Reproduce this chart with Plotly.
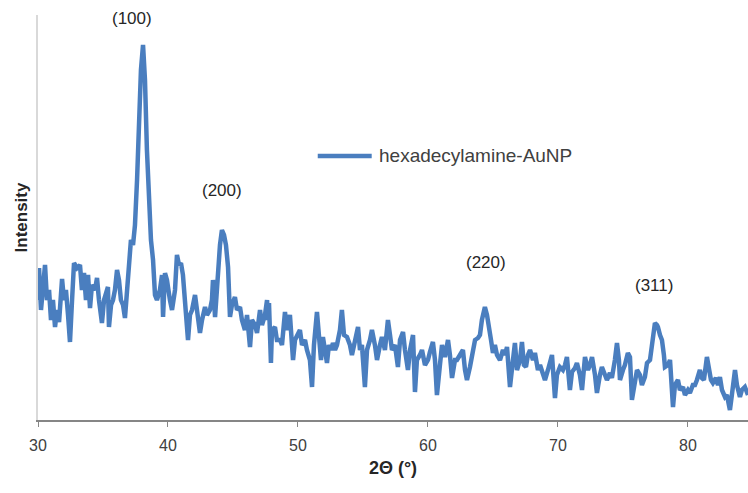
import plotly.graph_objects as go

two_theta = [
    30.00, 30.08, 30.23, 30.38, 30.54, 30.69, 30.85, 31.00, 31.15, 31.31, 31.46, 31.62,
    31.85, 32.00, 32.15, 32.31, 32.46, 32.62, 32.77, 33.00, 33.23, 33.38, 33.54, 33.69,
    33.85, 34.00, 34.15, 34.38, 34.54, 34.69, 34.92, 35.08, 35.23, 35.38, 35.46, 35.62,
    35.77, 35.92, 36.08, 36.23, 36.38, 36.54, 36.69, 36.85, 37.00, 37.15, 37.31, 37.46,
    37.62, 37.77, 37.92, 38.08, 38.23, 38.38, 38.54, 38.69, 38.85, 39.00, 39.15,
    39.38, 39.54, 39.62, 39.77, 39.92, 40.15, 40.31, 40.54, 40.69, 40.85, 41.00, 41.15,
    41.31, 41.46, 41.54, 41.69, 41.85, 42.08, 42.23, 42.46, 42.62, 42.85, 43.00, 43.23,
    43.38, 43.46, 43.62, 43.77, 43.85, 44.00, 44.15, 44.31, 44.46, 44.62, 44.77, 44.92,
    45.15, 45.31, 45.54, 45.69, 45.92, 46.08, 46.31, 46.46, 46.69, 46.85, 47.08, 47.23,
    47.46, 47.62, 47.69, 47.77, 47.92, 48.00, 48.23, 48.38, 48.62,
    48.77, 49.00, 49.15, 49.38, 49.62, 49.77, 50.00, 50.15, 50.31, 50.54, 50.69, 50.92,
    51.08, 51.23, 51.46, 51.62, 51.77, 51.92, 52.08, 52.23, 52.38, 52.54, 52.69, 52.85,
    53.00, 53.23, 53.38, 53.54, 53.77, 54.00, 54.15, 54.38, 54.62, 54.77, 54.92, 55.15,
    55.31, 55.54, 55.69, 55.92, 56.08, 56.31, 56.46, 56.69, 56.92, 57.08, 57.23, 57.46,
    57.69,
    57.85, 58.08, 58.23, 58.46, 58.62, 58.85, 59.00, 59.15, 59.38, 59.54, 59.77, 60.00,
    60.15, 60.38, 60.54, 60.69, 60.92, 61.08, 61.31, 61.54, 61.69, 61.85, 62.08, 62.23,
    62.46, 62.69, 62.85, 63.00, 63.23, 63.38, 63.62, 63.85, 64.00, 64.15, 64.38, 64.54,
    64.69, 64.85, 65.00, 65.15, 65.31, 65.54, 65.77, 65.92, 66.08, 66.31, 66.54, 66.69,
    66.85, 67.08, 67.23, 67.38, 67.54, 67.69, 67.85, 68.08, 68.23, 68.46, 68.62, 68.85,
    69.00, 69.23, 69.38, 69.54, 69.77, 69.92, 70.15, 70.38, 70.54, 70.69, 70.92, 71.08,
    71.31, 71.46, 71.69, 71.85, 72.08, 72.31, 72.46, 72.62, 72.85, 73.00, 73.23, 73.38,
    73.62, 73.77, 74.00, 74.15, 74.38, 74.54, 74.69, 74.77, 75.00, 75.15, 75.38, 75.54,
    75.69, 75.92, 76.08, 76.31, 76.46, 76.69, 76.85, 77.08, 77.23, 77.38, 77.46, 77.62,
    77.69, 77.85, 78.00, 78.15, 78.23, 78.46, 78.62, 78.85, 79.00, 79.23, 79.38, 79.62,
    79.77, 80.00, 80.15, 80.38, 80.54, 80.69, 80.92, 81.08, 81.23, 81.46, 81.62, 81.77,
    81.92, 82.15, 82.31, 82.46, 82.62, 82.85, 83.00, 83.23, 83.38, 83.62, 83.77, 84.00,
    84.15, 84.38, 84.62,
]

intensity = [
    120, 152, 110, 135, 155, 120, 130, 100, 120, 93, 110, 98,
    141, 120, 130, 105, 78, 120, 157, 152, 155, 130, 147, 120,
    145, 112, 135, 130, 142, 120, 97, 120, 125, 133, 93, 115,
    120, 130, 150, 140, 120, 115, 102, 125, 150, 180, 175, 195,
    240, 300, 350, 375, 340, 270, 220, 180, 160, 125, 120,
    130, 145, 103, 147, 140, 120, 110, 130, 165, 155, 157, 145,
    113, 100, 80, 105, 110, 125, 110, 87, 100, 113, 105, 110,
    120, 140, 103, 135, 160, 175, 190, 185, 175, 153, 103, 115,
    123, 110, 113, 100, 90, 105, 73, 100, 95, 87, 110, 95,
    105, 120, 100, 117, 57, 90, 93, 80, 80,
    75, 108, 90, 105, 60, 80, 85, 90, 75, 80, 70, 60,
    33, 75, 108, 80, 60, 83, 65, 57, 75, 70, 77, 70,
    75, 90, 110, 85, 83, 75, 65, 80, 93, 70, 75, 33,
    70, 80, 90, 75, 60, 75, 83, 70, 100, 85, 70, 75,
    53,
    80, 88, 70, 50, 70, 85, 28, 60, 65, 70, 55, 60,
    68, 78, 60, 25, 55, 75, 63, 80, 65, 42, 60, 60,
    65, 70, 50, 40, 53, 65, 80, 82, 85, 100, 113, 105,
    95, 80, 67, 75, 65, 60, 70, 65, 73, 33, 60, 77,
    50, 60, 78, 55, 53, 65, 70, 60, 67, 50, 55, 45,
    40, 50, 60, 65, 22, 45, 53, 50, 55, 63, 30, 48,
    52, 57, 45, 30, 63, 50, 55, 63, 45, 27, 45, 53,
    45, 40, 47, 42, 60, 77, 60, 40, 50, 55, 67, 63,
    20, 40, 50, 45, 35, 43, 57, 60, 73, 90, 97, 95,
    93, 85, 80, 65, 53, 55, 60, 13, 35, 40, 30, 33,
    25, 30, 27, 35, 35, 40, 50, 42, 40, 63, 50, 40,
    37, 42, 35, 43, 30, 23, 25, 10, 25, 50, 35, 23,
    30, 33, 25,
]

peak_labels = ["(100)", "(200)", "(220)", "(311)"]
peak_label_x = [37.23, 44.15, 64.46, 77.38]
peak_label_y = [402, 230, 158, 135]

series_name = "hexadecylamine-AuNP"
x_title = "2\u0398 (\u00b0)"
y_title = "Intensity"
x_ticks = [30, 40, 50, 60, 70, 80]

font_family = "Liberation Sans, Arial, sans-serif"
line_color = "#4a7ebf"

fig = go.Figure()
fig.add_trace(go.Scatter(
    x=two_theta, y=intensity, mode="lines", name=series_name,
    line=dict(color=line_color, width=4.5), showlegend=False,
))

for lab, lx, ly in zip(peak_labels, peak_label_x, peak_label_y):
    fig.add_annotation(x=lx, y=ly, text=lab, showarrow=False,
                       font=dict(family=font_family, size=17, color="#262626"),
                       xref="x", yref="y")

# manual legend (sample line + label), positioned in paper coordinates
fig.add_shape(type="line", xref="paper", yref="paper",
              x0=0.394, x1=0.470, y0=0.652, y1=0.652,
              line=dict(color=line_color, width=4.5))
fig.add_annotation(xref="paper", yref="paper", x=0.4775, y=0.652,
                   xanchor="left", yanchor="middle", showarrow=False,
                   text=series_name,
                   font=dict(family=font_family, size=19, color="#404040"))

fig.update_layout(
    width=748, height=493,
    margin=dict(l=38, r=0, t=15, b=73),
    paper_bgcolor="white", plot_bgcolor="white",
    font=dict(family=font_family, size=16, color="#404040"),
    showlegend=False,
)
fig.update_xaxes(
    range=[30, 84.62], tickvals=x_ticks, ticks="outside", ticklen=5,
    tickcolor="#868686", showline=True, linecolor="#868686", linewidth=1.5,
    showgrid=False, zeroline=False, ticklabelstandoff=5,
    tickfont=dict(size=16, color="#404040"),
    title=dict(text="<b>" + x_title + "</b>", font=dict(size=18, color="#262626"), standoff=8),
)
fig.update_yaxes(
    range=[0, 405], showticklabels=False, ticks="", showline=True,
    linecolor="#d9d9d9", linewidth=2, showgrid=False, zeroline=False,
    title=dict(text="<b>" + y_title + "</b>", font=dict(size=17, color="#262626"), standoff=4),
)

fig.write_html("out.html")
